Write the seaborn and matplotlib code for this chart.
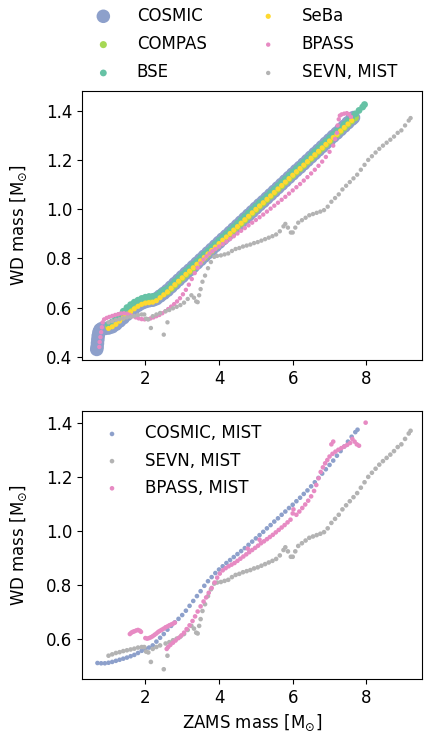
import matplotlib
matplotlib.use("Agg")
import matplotlib.pyplot as plt
import seaborn as sns
import numpy as np

# ---------------- data ----------------
pal = sns.color_palette("Set2")
C_BLUE, C_LIME, C_TEAL, C_YEL, C_PINK, C_GRAY = pal[2], pal[4], pal[0], pal[5], pal[3], pal[7]

cosmic_x = [0.68, 0.69, 0.70, 0.71, 0.72, 0.74, 0.77, 0.82, 0.90,
            1.0, 1.1, 1.2, 1.3, 1.4, 1.5, 1.6, 1.7, 1.8, 1.9, 2.0, 2.1, 2.2, 2.3, 2.4, 2.5, 2.6,
            2.7, 2.8, 2.9, 3.0, 3.1, 3.2, 3.3, 3.4, 3.5, 3.6, 3.7, 3.8, 3.9, 4.0, 4.1, 4.2, 4.3,
            4.4, 4.5, 4.6, 4.7, 4.8, 4.9, 5.0, 5.1, 5.2, 5.3, 5.4, 5.5, 5.6, 5.7, 5.8, 5.9, 6.0,
            6.1, 6.2, 6.3, 6.4, 6.5, 6.6, 6.7, 6.8, 6.9, 7.0, 7.1, 7.2, 7.3, 7.4, 7.5, 7.6, 7.65]
cosmic_y = [0.430, 0.440, 0.455, 0.470, 0.485, 0.500, 0.510, 0.515, 0.515,
            0.517, 0.522, 0.532, 0.545, 0.558, 0.572, 0.586, 0.598, 0.609, 0.618, 0.624, 0.628,
            0.630, 0.636, 0.647, 0.658, 0.670, 0.684, 0.698, 0.712, 0.726, 0.740, 0.753, 0.767,
            0.781, 0.795, 0.809, 0.823, 0.837, 0.851, 0.865, 0.879, 0.892, 0.906, 0.920, 0.934,
            0.948, 0.962, 0.976, 0.990, 1.004, 1.018, 1.031, 1.045, 1.059, 1.073, 1.087, 1.101,
            1.115, 1.129, 1.143, 1.157, 1.170, 1.184, 1.198, 1.212, 1.226, 1.240, 1.254, 1.268,
            1.282, 1.296, 1.309, 1.323, 1.337, 1.351, 1.365, 1.372]

compas_x = [1.0, 1.1, 1.2, 1.3, 1.4, 1.5, 1.6, 1.7, 1.8, 1.9, 2.0, 2.1, 2.2, 2.3, 2.4, 2.5, 2.6,
            2.7, 2.8, 2.9, 3.0, 3.1, 3.2, 3.3, 3.4, 3.5, 3.6, 3.7, 3.8, 3.9, 4.0, 4.1, 4.2, 4.3,
            4.4, 4.5, 4.6, 4.7, 4.8, 4.9, 5.0, 5.1, 5.2, 5.3, 5.4, 5.5, 5.6, 5.7, 5.8, 5.9, 6.0,
            6.1, 6.2, 6.3, 6.4, 6.5, 6.6, 6.7, 6.8, 6.9, 7.0, 7.1, 7.2, 7.3, 7.4, 7.5, 7.6, 7.7]
compas_y = [0.522, 0.531, 0.542, 0.556, 0.571, 0.586, 0.598, 0.608, 0.617, 0.624, 0.629, 0.632,
            0.633, 0.637, 0.648, 0.658, 0.664, 0.678, 0.692, 0.706, 0.720, 0.734, 0.747, 0.761,
            0.775, 0.789, 0.803, 0.817, 0.831, 0.845, 0.859, 0.873, 0.886, 0.900, 0.914, 0.928,
            0.942, 0.956, 0.970, 0.984, 0.998, 1.012, 1.025, 1.039, 1.053, 1.067, 1.081, 1.095,
            1.109, 1.123, 1.137, 1.151, 1.164, 1.178, 1.192, 1.206, 1.220, 1.234, 1.248, 1.262,
            1.276, 1.290, 1.303, 1.317, 1.331, 1.345, 1.359, 1.372]

bse_x = [1.0, 1.1, 1.2, 1.3, 1.4, 1.5, 1.6, 1.7, 1.8, 1.9, 2.0, 2.1, 2.2, 2.3, 2.4, 2.5, 2.6,
         2.7, 2.8, 2.9, 3.0, 3.1, 3.2, 3.3, 3.4, 3.5, 3.6, 3.7, 3.8, 3.9, 4.0, 4.1, 4.2, 4.3,
         4.4, 4.5, 4.6, 4.7, 4.8, 4.9, 5.0, 5.1, 5.2, 5.3, 5.4, 5.5, 5.6, 5.7, 5.8, 5.9, 6.0,
         6.1, 6.2, 6.3, 6.4, 6.5, 6.6, 6.7, 6.8, 6.9, 7.0, 7.1, 7.2, 7.3, 7.4, 7.5, 7.6, 7.7,
         7.8, 7.9, 7.95]
bse_y = [0.532, 0.542, 0.554, 0.569, 0.585, 0.600, 0.612, 0.622, 0.630, 0.637, 0.642, 0.645,
         0.645, 0.649, 0.660, 0.670, 0.678, 0.692, 0.706, 0.720, 0.734, 0.748, 0.761, 0.775,
         0.789, 0.803, 0.817, 0.831, 0.845, 0.859, 0.873, 0.887, 0.900, 0.914, 0.928, 0.942,
         0.956, 0.970, 0.984, 0.998, 1.012, 1.026, 1.039, 1.053, 1.067, 1.081, 1.095, 1.109,
         1.123, 1.137, 1.151, 1.165, 1.178, 1.192, 1.206, 1.220, 1.234, 1.248, 1.262, 1.276,
         1.290, 1.304, 1.317, 1.331, 1.345, 1.359, 1.373, 1.387, 1.401, 1.415, 1.425]

seba_x = [1.0, 1.1, 1.2, 1.3, 1.4, 1.5, 1.6, 1.7, 1.8, 1.9, 2.0, 2.1, 2.2, 2.3, 2.4, 2.5, 2.6,
          2.7, 2.8, 2.9, 3.0, 3.1, 3.2, 3.3, 3.4, 3.5, 3.6, 3.7, 3.8, 3.9, 4.0, 4.1, 4.2, 4.3,
          4.4, 4.5, 4.6, 4.7, 4.8, 4.9, 5.0, 5.1, 5.2, 5.3, 5.4, 5.5, 5.6, 5.7, 5.8, 5.9, 6.0,
          6.1, 6.2, 6.3, 6.4, 6.5, 6.6, 6.7, 6.8, 6.9, 7.0, 7.1, 7.2, 7.3, 7.4, 7.5, 7.6]
seba_y = [0.515, 0.522, 0.532, 0.545, 0.558, 0.570, 0.583, 0.595, 0.605, 0.613, 0.618, 0.620,
          0.622, 0.628, 0.640, 0.652, 0.664, 0.679, 0.693, 0.707, 0.721, 0.735, 0.748, 0.762,
          0.776, 0.790, 0.804, 0.818, 0.832, 0.846, 0.860, 0.874, 0.887, 0.901, 0.915, 0.929,
          0.943, 0.957, 0.971, 0.985, 0.999, 1.013, 1.026, 1.040, 1.054, 1.068, 1.082, 1.096,
          1.110, 1.124, 1.138, 1.152, 1.165, 1.179, 1.193, 1.207, 1.221, 1.235, 1.249, 1.263,
          1.277, 1.291, 1.304, 1.318, 1.332, 1.346, 1.360]

bpass_x = [0.75, 0.76, 0.78, 0.80, 0.82, 0.84, 0.88, 0.95, 1.02, 1.10, 1.18, 1.26, 1.34, 1.42,
           1.50, 1.58, 1.66, 1.74, 1.82, 1.90, 1.98, 2.06, 2.14, 2.22, 2.30, 2.38, 2.46, 2.54,
           2.62, 2.70, 2.78, 2.86, 2.94, 3.02, 3.10, 3.18, 3.26, 3.34, 3.42, 3.50, 3.58, 3.66,
           3.74, 3.82, 3.9, 4.0, 4.1, 4.2, 4.3, 4.4, 4.5, 4.6, 4.7, 4.8, 4.9, 5.0, 5.1, 5.2,
           5.3, 5.4, 5.5, 5.6, 5.7, 5.8, 5.9, 6.0, 6.1, 6.2, 6.3, 6.4, 6.5, 6.6, 6.7, 6.8, 6.9,
           7.0, 7.1, 7.15, 7.2, 7.22, 7.25, 7.28, 7.33, 7.40, 7.47, 7.53, 7.58]
bpass_y = [0.440, 0.460, 0.480, 0.500, 0.520, 0.540, 0.552, 0.558, 0.562, 0.566, 0.570, 0.573,
           0.576, 0.577, 0.575, 0.570, 0.565, 0.560, 0.556, 0.553, 0.552, 0.553, 0.556, 0.560,
           0.565, 0.570, 0.577, 0.585, 0.594, 0.604, 0.614, 0.625, 0.638, 0.654, 0.672, 0.693,
           0.716, 0.740, 0.762, 0.780, 0.795, 0.808, 0.819, 0.829, 0.838, 0.848, 0.858, 0.868,
           0.879, 0.890, 0.901, 0.912, 0.923, 0.934, 0.945, 0.956, 0.967, 0.978, 0.990, 1.002,
           1.014, 1.026, 1.038, 1.050, 1.063, 1.076, 1.089, 1.102, 1.116, 1.130, 1.145, 1.160,
           1.176, 1.193, 1.212, 1.233, 1.258, 1.285, 1.310, 1.340, 1.365, 1.380, 1.385, 1.388,
           1.390, 1.385, 1.375]

sevn_x = [1.00, 1.10, 1.20, 1.30, 1.40, 1.50, 1.60, 1.70, 1.80, 1.90, 1.97, 2.02, 2.08, 2.15,
          2.20, 2.30, 2.40, 2.50, 2.55, 2.60, 2.65, 2.75, 2.85, 2.95, 3.05, 3.15, 3.25, 3.32,
          3.38, 3.42, 3.46, 3.50, 3.55, 3.62, 3.70, 3.78, 3.87, 3.95, 4.05, 4.15, 4.25, 4.35,
          4.45, 4.55, 4.65, 4.75, 4.85, 4.95, 5.05, 5.15, 5.25, 5.35, 5.45, 5.55, 5.65, 5.75,
          5.80, 5.87, 5.95, 6.00, 6.07, 6.15, 6.25, 6.35, 6.45, 6.55, 6.65, 6.75, 6.85, 6.95,
          7.05, 7.15, 7.25, 7.35, 7.45, 7.55, 7.65, 7.75, 7.85, 7.95, 8.05, 8.15, 8.25, 8.35,
          8.45, 8.55, 8.65, 8.75, 8.85, 8.95, 9.05, 9.15, 9.20]
sevn_y = [0.540, 0.545, 0.550, 0.553, 0.557, 0.560, 0.563, 0.566, 0.570, 0.572, 0.572, 0.555,
          0.552, 0.517, 0.565, 0.572, 0.578, 0.490, 0.585, 0.540, 0.590, 0.597, 0.603, 0.610,
          0.620, 0.635, 0.650, 0.640, 0.625, 0.622, 0.650, 0.675, 0.705, 0.730, 0.760, 0.785,
          0.806, 0.810, 0.812, 0.816, 0.820, 0.830, 0.838, 0.842, 0.848, 0.852, 0.856, 0.862,
          0.866, 0.872, 0.878, 0.884, 0.890, 0.897, 0.910, 0.930, 0.940, 0.925, 0.905, 0.905,
          0.925, 0.945, 0.955, 0.965, 0.975, 0.980, 0.985, 0.990, 0.996, 1.010, 1.030, 1.045,
          1.060, 1.080, 1.095, 1.110, 1.125, 1.140, 1.160, 1.180, 1.200, 1.215, 1.230, 1.245,
          1.258, 1.270, 1.282, 1.295, 1.310, 1.320, 1.340, 1.360, 1.370]

cmist_x = [0.70, 0.8, 0.9, 1.0, 1.1, 1.2, 1.3, 1.4, 1.5, 1.6, 1.7, 1.8, 1.9, 2.0, 2.1, 2.2, 2.3,
           2.4, 2.5, 2.6, 2.7, 2.8, 2.9, 3.0, 3.1, 3.2, 3.3, 3.4, 3.5, 3.6, 3.7, 3.8, 3.9, 4.0,
           4.1, 4.2, 4.3, 4.4, 4.5, 4.6, 4.7, 4.8, 4.9, 5.0, 5.1, 5.2, 5.3, 5.4, 5.5, 5.6, 5.7,
           5.8, 5.9, 6.0, 6.1, 6.2, 6.3, 6.4, 6.5, 6.6, 6.7, 6.8, 6.9, 7.0, 7.1, 7.2, 7.3, 7.4,
           7.5, 7.6, 7.7, 7.76]
cmist_y = [0.513, 0.512, 0.512, 0.514, 0.517, 0.521, 0.525, 0.529, 0.533, 0.538, 0.543, 0.550,
           0.558, 0.565, 0.570, 0.578, 0.592, 0.606, 0.620, 0.636, 0.650, 0.663, 0.676, 0.690,
           0.706, 0.724, 0.742, 0.760, 0.778, 0.798, 0.815, 0.830, 0.845, 0.858, 0.870, 0.882,
           0.893, 0.904, 0.915, 0.926, 0.937, 0.949, 0.961, 0.973, 0.985, 0.997, 1.010, 1.022,
           1.035, 1.047, 1.060, 1.072, 1.085, 1.097, 1.110, 1.123, 1.137, 1.150, 1.165, 1.180,
           1.196, 1.212, 1.228, 1.244, 1.260, 1.278, 1.295, 1.312, 1.330, 1.348, 1.365, 1.374]

bmist_x = [1.58, 1.62, 1.66, 1.70, 1.75, 1.80, 1.85, 1.88,
           2.00, 2.05, 2.10, 2.15, 2.20, 2.25, 2.30, 2.35, 2.40, 2.45, 2.50, 2.55, 2.60, 2.65,
           2.70, 2.75, 2.80,
           2.58, 2.62, 2.68, 2.75, 2.82, 2.90, 2.98, 3.05, 3.12, 3.20, 3.28, 3.35, 3.42, 3.50,
           3.58, 3.65, 3.72, 3.80, 3.88, 3.95, 4.02, 4.10, 4.18, 4.26, 4.34, 4.42, 4.50, 4.58,
           4.66, 4.74, 4.82, 4.78, 4.90, 4.98, 5.06, 5.14, 5.10, 5.22, 5.30, 5.38, 5.46, 5.54,
           5.62, 5.70, 5.78, 5.86, 5.94, 6.00, 6.02, 6.10, 6.18, 6.26, 6.34, 6.42, 6.50, 6.58,
           6.64, 6.70, 6.76, 6.82, 6.88, 6.94, 7.00, 7.05, 7.10, 7.08, 7.16, 7.24, 7.32, 7.40,
           7.48, 7.56, 7.62, 7.68, 7.74, 7.80, 7.98]
bmist_y = [0.620, 0.625, 0.628, 0.630, 0.633, 0.635, 0.632, 0.628,
           0.605, 0.603, 0.605, 0.608, 0.612, 0.617, 0.622, 0.628, 0.632, 0.636, 0.640, 0.645,
           0.648, 0.652, 0.655, 0.658, 0.662,
           0.565, 0.572, 0.580, 0.588, 0.596, 0.605, 0.615, 0.625, 0.638, 0.652, 0.668, 0.685,
           0.703, 0.722, 0.740, 0.755, 0.772, 0.790, 0.810, 0.828, 0.843, 0.855, 0.863, 0.870,
           0.876, 0.882, 0.890, 0.898, 0.906, 0.914, 0.922, 0.935, 0.930, 0.938, 0.946, 0.955,
           0.968, 0.962, 0.970, 0.978, 0.986, 0.995, 1.004, 1.013, 1.022, 1.032, 1.042, 1.065,
           1.080, 1.060, 1.072, 1.085, 1.098, 1.112, 1.128, 1.148, 1.170, 1.195, 1.218, 1.235,
           1.250, 1.262, 1.275, 1.320, 1.330, 1.285, 1.293, 1.300, 1.306, 1.312, 1.318, 1.325,
           1.340, 1.330, 1.320, 1.315, 1.400]

XTICKS = [2, 4, 6, 8]
YTICKS_TOP = [0.4, 0.6, 0.8, 1.0, 1.2, 1.4]
YTICKS_BOT = [0.6, 0.8, 1.0, 1.2, 1.4]
YLABEL = r"WD mass [M$_{\odot}$]"
XLABEL = r"ZAMS mass [M$_{\odot}$]"

# ---------------- figure ----------------
plt.rcParams["font.family"] = ["DejaVu Sans"]
plt.rcParams["font.size"] = 12
W, H = 425, 736
fig = plt.figure(figsize=(W / 100, H / 100), dpi=100)

def px_axes(l, t, r, b):
    return fig.add_axes([l / W, 1 - b / H, (r - l) / W, (b - t) / H])

ax1 = px_axes(82, 91, 422, 360)
ax2 = px_axes(82, 411, 422, 679)

kw = dict(linewidth=0, edgecolor="none")
sns.scatterplot(x=cosmic_x, y=cosmic_y, ax=ax1, color=C_BLUE, s=95, label="COSMIC", **kw)
sns.scatterplot(x=compas_x, y=compas_y, ax=ax1, color=C_LIME, s=26, label="COMPAS", **kw)
sns.scatterplot(x=bse_x, y=bse_y, ax=ax1, color=C_TEAL, s=24, label="BSE", **kw)
sns.scatterplot(x=seba_x, y=seba_y, ax=ax1, color=C_YEL, s=14, label="SeBa", **kw)
sns.scatterplot(x=bpass_x, y=bpass_y, ax=ax1, color=C_PINK, s=10, label="BPASS", **kw)
sns.scatterplot(x=sevn_x, y=sevn_y, ax=ax1, color=C_GRAY, s=10, label="SEVN, MIST", **kw)

sns.scatterplot(x=cmist_x, y=cmist_y, ax=ax2, color=C_BLUE, s=11, label="COSMIC, MIST", **kw)
sns.scatterplot(x=sevn_x, y=sevn_y, ax=ax2, color=C_GRAY, s=11, label="SEVN, MIST", **kw)
sns.scatterplot(x=bmist_x, y=bmist_y, ax=ax2, color=C_PINK, s=11, label="BPASS, MIST", **kw)

for ax in (ax1, ax2):
    ax.set_xlim(0.28, 9.51)
    ax.set_xticks(XTICKS)
    ax.set_ylabel(YLABEL, fontsize=12)
    ax.tick_params(labelsize=12)
    ax.yaxis.set_label_coords(-0.155, 0.5)
ax1.set_ylim(0.387, 1.48)
ax1.set_yticks(YTICKS_TOP)
ax2.set_ylim(0.454, 1.443)
ax2.set_yticks(YTICKS_BOT)
ax1.set_xlabel("")
ax2.set_xlabel(XLABEL, fontsize=12)

h, l = ax1.get_legend_handles_labels()
ax1.legend(h, l, ncol=2, loc="lower left", bbox_to_anchor=(80 / W, 1 - 88 / H),
           bbox_transform=fig.transFigure, borderaxespad=0, frameon=False,
           fontsize=12, handletextpad=1.0, columnspacing=2.7, labelspacing=0.62)
ax2.legend(loc="upper left", frameon=False, fontsize=12, handletextpad=1.0,
           labelspacing=0.55, borderaxespad=0.4)

fig.savefig("out.png", dpi=100)
